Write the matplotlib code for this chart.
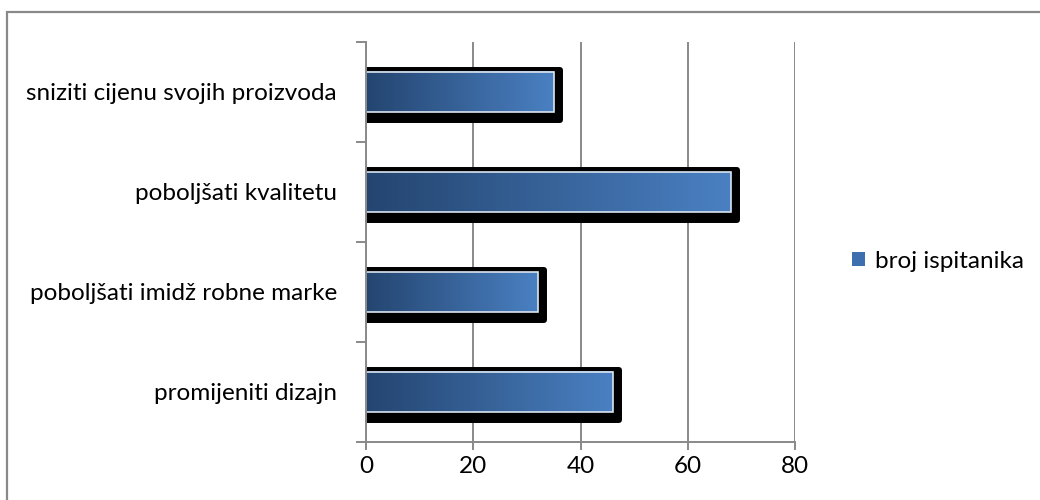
import numpy as np
import matplotlib
matplotlib.use('Agg')
import matplotlib.pyplot as plt
from matplotlib.patches import Rectangle
from matplotlib.colors import LinearSegmentedColormap

# data, bottom to top
categories = ['promijeniti dizajn', 'poboljšati imidž robne marke',
              'poboljšati kvalitetu', 'sniziti cijenu svojih proizvoda']
values = [46, 32, 68, 35]
series_name = 'broj ispitanika'
xticks = [0, 20, 40, 60, 80]

plt.rcParams['font.family'] = ['Lato', 'DejaVu Sans']
FS = 17.5
GRAY = '#898989'

fig = plt.figure(figsize=(10.4, 5.0), dpi=100)
ax = fig.add_axes([366/1040, 1-441.7/500, (795-366)/1040, 400/500])
ax.set_xlim(0, 80)
ax.set_ylim(-0.5, len(categories) - 0.5)

cmap = LinearSegmentedColormap.from_list('g', ['#244570', '#4a80c2'])
grad = np.linspace(0, 1, 256).reshape(1, -1)

px_x = 80 / 429.0   # data units per pixel
px_y = 4 / 400.0
h = 0.4
for i, v in enumerate(values):
    # shadow
    ax.add_patch(Rectangle((0, i - h/2 - 8*px_y), v + 6*px_x, h + 10*px_y,
                           facecolor='black', edgecolor='black', lw=4.3,
                           joinstyle='round', zorder=3))
    ax.imshow(grad, cmap=cmap, aspect='auto', extent=[0, v, i - h/2, i + h/2],
              zorder=4, interpolation='bilinear')
    ax.add_patch(Rectangle((0, i - h/2), v, h, facecolor='none',
                           edgecolor='#dbe5f1', lw=1.2, zorder=5))

ax.set_xlim(0, 80)
ax.set_ylim(-0.5, len(categories) - 0.5)

ax.set_xticks(xticks)
ax.set_xticklabels([str(t) for t in xticks], fontsize=FS)
ax.grid(axis='x', color=GRAY, lw=1.4, zorder=0)
ax.set_axisbelow(True)
ax.tick_params(axis='x', length=6, color=GRAY, width=1.4, pad=4)

ax.set_yticks(np.arange(-0.5, len(categories)), minor=False)
ax.set_yticklabels([])
ax.set_yticks(np.arange(len(categories)), minor=True)
ax.set_yticklabels(categories, minor=True, fontsize=FS)
ax.tick_params(axis='y', which='major', length=7, color=GRAY, width=1.4)
ax.tick_params(axis='y', which='minor', length=0, pad=21)

for s in ['top', 'right']:
    ax.spines[s].set_visible(False)
for s in ['left', 'bottom']:
    ax.spines[s].set_color(GRAY)
    ax.spines[s].set_linewidth(1.4)
    ax.spines[s].set_zorder(6)

fig.legend(handles=[Rectangle((0, 0), 1, 1, facecolor='#3d6eae')],
           labels=[series_name], loc='center left',
           bbox_to_anchor=(852/1040, 1-261/500), frameon=False,
           fontsize=FS, handlelength=0.55, handleheight=0.55,
           handletextpad=0.4, borderpad=0, borderaxespad=0)

# chart frame (only top and left visible in the crop)
fig.add_artist(Rectangle((7/1040, -0.1), 1.2, 1 - 12/500 + 0.1,
                         transform=fig.transFigure, fill=False,
                         edgecolor=GRAY, lw=1.6))

fig.savefig('out.png', dpi=100)
